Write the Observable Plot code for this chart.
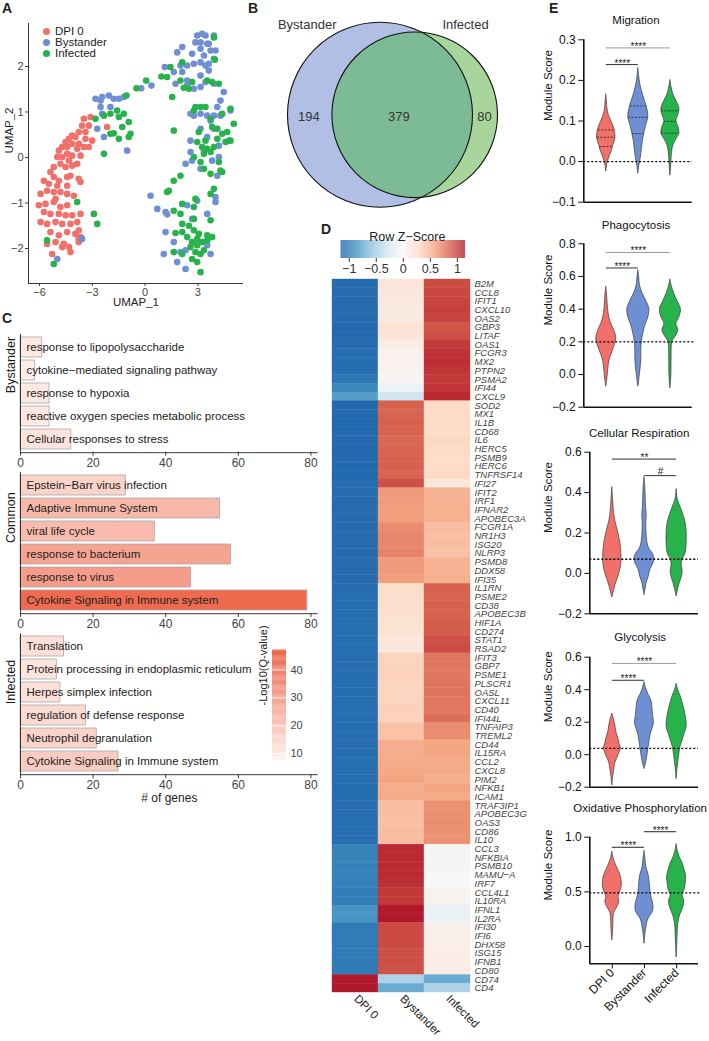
<!DOCTYPE html>
<html><head><meta charset="utf-8">
<script src="https://cdn.jsdelivr.net/npm/d3@7"></script>
<script src="https://cdn.jsdelivr.net/npm/@observablehq/plot@0.6"></script>
<style>
body{margin:0;background:#fff;}
#fig{position:relative;width:709px;height:1041px;overflow:hidden;font-family:"Liberation Sans",Arial,sans-serif;color:#222;background:#fff;}
.plab{position:absolute;font-weight:bold;font-size:14px;line-height:14px;}
.leg{position:absolute;font-size:11.5px;line-height:11px;display:flex;align-items:center;}
.leg span.d{display:inline-block;width:7px;height:7px;border-radius:50%;margin-right:5px;}
svg{overflow:visible;}
</style></head><body><div id="fig"></div>
<script>
// ---------------- DATA ----------------
const groups = ["DPI 0", "Bystander", "Infected"];
const groupColors = ["#F1706A", "#6F8FD5", "#28B24B"];

// Panel A: UMAP coordinates [UMAP_1, UMAP_2]
const umapDPI0 = [[-3.10,0.89],[-3.48,0.85],[-3.58,0.70],[-3.39,0.56],[-3.20,0.70],[-3.77,0.56],[-3.96,0.45],[-4.14,0.48],[-4.33,0.41],[-4.52,0.34],[-4.14,0.30],[-3.77,0.30],[-3.39,0.41],[-3.01,0.37],[-3.20,0.23],[-3.48,0.23],[-3.86,0.19],[-4.43,0.23],[-4.71,0.23],[-4.90,0.15],[-4.43,0.08],[-4.14,0.04],[-3.67,0.04],[-4.71,0.01],[-4.99,0.01],[-4.33,-0.07],[-3.86,-0.14],[-4.81,-0.14],[-5.19,-0.21],[-4.52,-0.21],[-4.14,-0.18],[-5.38,-0.32],[-5.75,-0.51],[-5.19,-0.43],[-4.90,-0.51],[-4.43,-0.43],[-4.24,-0.40],[-3.77,-0.47],[-3.67,-0.54],[-5.47,-0.58],[-4.99,-0.62],[-4.43,-0.62],[-5.94,-0.80],[-5.57,-0.73],[-5.19,-0.76],[-4.81,-0.76],[-4.43,-0.80],[-4.05,-0.84],[-5.09,-0.91],[-2.16,0.67],[-6.04,-1.05],[-5.66,-1.02],[-5.19,-0.98],[-4.81,-1.09],[-4.43,-1.05],[-5.75,-1.20],[-5.38,-1.24],[-4.90,-1.24],[-4.52,-1.27],[-4.14,-1.27],[-3.67,-1.24],[-5.94,-1.42],[-5.57,-1.46],[-5.09,-1.42],[-4.71,-1.46],[-4.24,-1.46],[-3.86,-1.42],[-5.38,-1.64],[-4.90,-1.71],[-4.43,-1.64],[-3.96,-1.68],[-3.77,-1.60],[-5.57,-1.90],[-5.09,-1.86],[-4.62,-1.90],[-4.33,-1.97],[-3.77,-1.86],[-3.67,-1.75],[-5.28,-2.12],[-4.71,-1.97],[-4.24,-2.08],[-3.77,-1.79]];
const umapBystander = [[-2.82,1.29],[-2.44,1.33],[-2.06,1.36],[-1.78,1.29],[-1.49,1.29],[-1.21,1.33],[-2.53,1.11],[-1.97,1.11],[-2.44,0.96],[-2.72,0.63],[-2.34,0.45],[-1.02,0.15],[-2.53,1.25],[-3.58,-1.79],[-4.99,-2.23],[2.96,2.68],[3.24,2.72],[3.43,2.68],[2.86,2.53],[3.15,2.53],[3.62,2.50],[3.91,2.68],[2.11,2.43],[1.82,2.31],[2.67,2.28],[3.34,2.24],[3.72,2.35],[4.00,2.35],[3.15,2.09],[3.43,2.02],[3.62,2.06],[2.77,2.06],[2.39,2.02],[2.11,1.88],[1.63,1.88],[1.12,1.99],[1.73,1.62],[2.39,1.69],[3.15,1.80],[3.43,1.66],[3.91,1.62],[3.15,1.55],[2.77,1.51],[4.47,1.44],[4.85,1.03],[4.28,1.25],[4.10,1.11],[4.28,0.92],[3.15,0.96],[2.77,0.92],[2.58,0.96],[3.53,0.92],[3.91,0.92],[3.72,0.81],[3.15,0.63],[3.91,0.63],[3.53,0.45],[4.19,0.26],[4.76,0.37],[4.19,0.01],[2.58,0.12],[2.30,-0.14],[2.67,-0.07],[3.15,-0.25],[3.81,-0.07],[4.10,-0.40],[4.00,-0.87],[0.31,-0.84],[3.34,0.15],[2.58,0.37],[0.36,1.58],[-0.22,1.52],[2.39,1.58],[3.62,1.91],[3.91,2.17],[2.01,2.02],[3.15,2.39],[3.53,2.50],[0.69,-1.13],[1.16,-1.20],[1.25,-1.25],[2.39,-1.05],[2.67,-1.35],[1.16,-1.64],[1.63,-1.86],[1.06,-2.12],[1.82,-2.30],[2.30,-2.45],[2.01,-2.08],[2.30,-2.04],[3.53,-1.93],[3.72,-2.12],[3.53,-1.24],[4.00,-0.98],[2.96,-0.95]];
const umapInfected = [[-1.06,1.36],[-2.82,0.85],[-2.34,0.92],[-1.97,0.96],[-1.59,1.03],[-1.49,0.89],[-1.21,0.96],[-0.93,0.78],[-1.30,0.67],[-1.78,0.53],[-1.97,0.52],[-1.49,0.41],[-0.83,0.52],[-0.93,0.45],[-2.34,0.08],[1.63,0.59],[-5.57,-1.82],[-3.86,-0.98],[-2.91,-1.24],[-2.72,-1.46],[-5.19,-2.34],[3.91,2.64],[3.96,2.15],[2.11,2.09],[1.44,1.99],[0.93,1.78],[1.25,1.77],[2.01,1.69],[2.67,1.66],[2.20,1.53],[2.49,1.51],[3.53,1.69],[3.81,1.66],[4.19,1.62],[1.54,1.33],[2.77,1.03],[3.15,1.11],[3.43,1.11],[2.86,1.11],[4.38,0.96],[4.85,1.07],[5.04,0.74],[3.72,0.85],[4.10,0.63],[3.81,0.67],[4.38,0.52],[4.66,0.56],[4.85,0.37],[4.10,0.41],[4.57,0.34],[3.05,0.56],[3.43,0.37],[3.24,0.23],[3.53,0.19],[3.91,0.23],[3.34,0.08],[3.72,0.12],[2.96,0.34],[2.77,0.01],[3.15,-0.10],[3.34,-0.25],[4.19,-0.10],[4.28,-0.29],[3.72,-0.36],[4.38,-0.32],[2.01,-0.40],[1.63,-0.51],[1.35,-0.73],[1.25,-0.76],[3.91,-0.69],[3.72,-0.80],[2.86,-0.91],[0.06,1.69],[-0.49,1.52],[1.63,-1.17],[2.11,-1.02],[2.77,-1.09],[3.72,-1.38],[2.11,-1.46],[2.49,-1.50],[1.73,-1.66],[2.11,-1.64],[2.77,-1.60],[3.05,-1.68],[2.39,-1.75],[2.96,-1.79],[3.53,-1.71],[3.81,-1.75],[2.67,-1.86],[3.24,-1.86],[2.58,-1.97],[2.96,-1.93],[3.34,-2.04],[2.86,-2.08],[1.63,-2.08],[2.11,-2.12],[3.15,-2.12],[2.67,-2.23],[2.96,-2.30],[3.15,-2.52],[3.53,-1.82],[2.77,-1.35],[2.01,-1.24]];

// Panel B: Venn counts
const vennNames = ["Bystander", "Infected"];
const vennOnly = [194, 80];
const vennShared = 379;

// Panel C: enrichment
const bystanderTerms = ["response to lipopolysaccharide","cytokine\u2212mediated signaling pathway","response to hypoxia","reactive oxygen species metabolic process","Cellular responses to stress"];
const bystanderCounts = [6, 4, 8, 8, 14];
const bystanderLogQ = [10, 9, 10, 10, 11];
const commonTerms = ["Epstein\u2212Barr virus infection","Adaptive Immune System","viral life cycle","response to bacterium","response to virus","Cytokine Signaling in Immune system"];
const commonCounts = [29, 55, 37, 58, 47, 79];
const commonLogQ = [16, 23, 22.5, 29, 31, 45];
const infectedTerms = ["Translation","Protein processing in endoplasmic reticulum","Herpes simplex infection","regulation of defense response","Neutrophil degranulation","Cytokine Signaling in Immune system"];
const infectedCounts = [12, 10, 11, 18, 21, 27];
const infectedLogQ = [12, 11, 12, 14, 16, 18];
const qTicks = [10, 20, 30, 40];

// Panel D: heatmap
const hmColumns = ["DPI 0", "Bystander", "Infected"];
const hmGenes = ["B2M","CCL8","IFIT1","CXCL10","OAS2","GBP3","LITAF","OAS1","FCGR3","MX2","PTPN2","PSMA2","IFI44","CXCL9","SOD2","MX1","IL1B","CD68","IL6","HERC5","PSMB9","HERC6","TNFRSF14","IFI27","IFIT2","IRF1","IFNAR2","APOBEC3A","FCGR1A","NR1H3","ISG20","NLRP3","PSMD8","DDX58","IFI35","IL1RN","PSME2","CD38","APOBEC3B","HIF1A","CD274","STAT1","RSAD2","IFIT3","GBP7","PSME1","PLSCR1","OASL","CXCL11","CD40","IFI44L","TNFAIP3","TREML2","CD44","IL15RA","CCL2","CXCL8","PIM2","NFKB1","ICAM1","TRAF3IP1","APOBEC3G","OAS3","CD86","IL10","CCL3","NFKBIA","PSMB10","MAMU\u2212A","IRF7","CCL4L1","IL10RA","IFNL1","IL2RA","IFI30","IFI6","DHX58","ISG15","IFNB1","CD80","CD74","CD4"];
const zDPI0 = [-1.12,-1.12,-1.12,-1.12,-1.12,-1.13,-1.13,-1.12,-1.1,-1.1,-1.1,-1.05,-0.95,-0.8,
 -1.13,-1.13,-1.13,-1.13,-1.13,-1.13,-1.13,-1.13,-1.13,-1.1,-1.12,-1.12,-1.12,-1.12,-1.12,-1.12,-1.12,-1.12,-1.12,-1.12,-1.12,
 -1.1,-1.1,-1.1,-1.1,-1.1,-1.1,-1.1,-1.1,-1.1,-1.1,-1.1,-1.1,-1.1,-1.1,-1.1,-1.1,-1.1,-1.1,-1.1,-1.1,-1.1,-1.1,-1.1,-1.1,-1.1,-1.1,-1.1,-1.1,-1.1,-1.1,
 -0.97,-0.97,-0.97,-0.97,-0.97,-1.0,-1.0,-0.85,-0.85,-1.02,-1.02,-1.02,-1.02,-1.02,-1.02,
 1.15,1.15];
const zBystander = [0.18,0.16,0.15,0.13,0.14,0.22,0.2,0.1,0.05,0.04,0.06,0.03,-0.08,-0.28,
 0.85,0.84,0.86,0.85,0.83,0.84,0.85,0.86,0.84,0.93,0.62,0.62,0.6,0.6,0.68,0.7,0.7,0.72,0.62,0.62,0.6,
 0.25,0.26,0.24,0.25,0.22,0.22,0.17,0.15,0.33,0.33,0.34,0.32,0.32,0.33,0.34,0.33,0.42,0.42,0.53,0.53,0.55,0.55,0.58,0.53,0.55,0.44,0.44,0.43,0.44,0.45,
 1.08,1.08,1.08,1.08,1.06,1.02,1.02,1.17,1.15,0.95,0.95,0.95,0.93,0.93,0.92,
 -0.45,-0.72];
const zInfected = [0.94,0.96,0.97,0.99,0.98,0.91,0.93,1.02,1.05,1.06,1.04,1.02,1.03,1.08,
 0.28,0.29,0.27,0.28,0.3,0.29,0.28,0.27,0.29,0.17,0.5,0.5,0.52,0.52,0.45,0.43,0.44,0.42,0.5,0.5,0.52,
 0.85,0.84,0.86,0.85,0.88,0.88,0.93,0.95,0.77,0.77,0.76,0.78,0.78,0.77,0.76,0.8,0.68,0.68,0.57,0.57,0.55,0.55,0.52,0.57,0.55,0.66,0.66,0.67,0.66,0.65,
 -0.03,-0.03,-0.03,0.0,0.0,0.05,0.05,-0.1,-0.1,0.08,0.08,0.09,0.1,0.1,0.1,
 -0.72,-0.45];
const zTicks = [-1, -0.5, 0, 0.5, 1];

// Panel E: violin outlines [module score, half width]
const migration = [
 [[0.165,0],[0.15,0.6],[0.13,1.2],[0.115,2.5],[0.1,5],[0.085,7.5],[0.07,9],[0.055,9],[0.04,7],[0.03,6],[0.02,4.5],[0.01,3],[0,1.6],[-0.01,0.8],[-0.025,0]],
 [[0.23,0],[0.21,0.8],[0.19,2],[0.17,4],[0.15,6.5],[0.13,9],[0.11,10],[0.09,8],[0.07,6],[0.05,4.5],[0.03,3.5],[0.01,2.5],[-0.01,1],[-0.03,0]],
 [[0.2,0],[0.185,1],[0.165,3],[0.15,6],[0.13,9],[0.115,8],[0.1,6],[0.085,8],[0.07,9],[0.055,6],[0.04,3],[0.02,1.5],[0,1],[-0.02,0.5],[-0.035,0]]];
const migrationQuartiles = [
 [[0.078,8],[0.06,9],[0.037,6.5]],
 [[0.137,8],[0.109,10],[0.069,6]],
 [[0.125,9],[0.099,6.2],[0.07,9]]];
const phagocytosis = [
 [[0.535,0],[0.5,0.7],[0.45,1.2],[0.4,1.8],[0.35,3],[0.31,5],[0.27,8],[0.22,10],[0.17,8],[0.12,5],[0.08,3],[0.03,2],[-0.03,1],[-0.075,0]],
 [[0.636,0],[0.6,0.8],[0.55,1.5],[0.5,4],[0.45,8],[0.4,11],[0.35,10],[0.3,7],[0.25,5],[0.2,3.5],[0.15,3],[0.1,3],[0.05,2.5],[0,1.5],[-0.04,0.8],[-0.075,0]],
 [[0.58,0],[0.55,1],[0.5,3.5],[0.45,7],[0.4,10.5],[0.35,9],[0.31,6],[0.27,8],[0.23,5],[0.2,2],[0.1,1.2],[0,1],[-0.05,0.5],[-0.085,0]]];
const respiration = [
 [[0.425,0],[0.38,0.6],[0.33,1.2],[0.29,2],[0.26,3],[0.2,6],[0.15,8],[0.1,9],[0.05,9],[0,7],[-0.03,5],[-0.06,3],[-0.09,1.5],[-0.12,0]],
 [[0.475,0],[0.43,0.8],[0.38,1.2],[0.33,1.5],[0.29,2.2],[0.25,1.8],[0.2,2],[0.15,3],[0.12,5],[0.1,8],[0.075,10],[0.05,9],[0.02,6],[-0.02,4],[-0.05,2],[-0.08,1],[-0.107,0]],
 [[0.415,0],[0.37,1],[0.34,3],[0.3,6],[0.25,9],[0.2,10],[0.15,10],[0.1,9],[0.07,6],[0.04,5],[0.01,6],[-0.02,5],[-0.05,3],[-0.08,1.5],[-0.115,0]]];
const glycolysis = [
 [[0.25,0],[0.22,1.5],[0.18,3],[0.14,4],[0.1,6],[0.07,7],[0.04,8.5],[0.01,7],[-0.02,5],[-0.05,3],[-0.09,2],[-0.13,1],[-0.19,0]],
 [[0.444,0],[0.41,1.5],[0.37,4],[0.33,7],[0.28,8],[0.24,8.5],[0.2,9.5],[0.16,8],[0.12,6],[0.08,5],[0.04,4],[0,3],[-0.04,2],[-0.088,0]],
 [[0.434,0],[0.4,1.5],[0.36,4],[0.32,6],[0.27,8],[0.22,9.5],[0.17,10],[0.13,8],[0.09,6],[0.05,4],[0.02,3],[-0.03,2],[-0.08,1],[-0.15,0]]];
const oxphos = [
 [[0.863,0],[0.82,1],[0.76,3],[0.7,6],[0.64,8.5],[0.58,9.5],[0.53,9],[0.48,7],[0.45,6],[0.41,7],[0.36,5],[0.31,2],[0.26,1.2],[0.2,1],[0.12,0.6],[0.055,0]],
 [[0.872,0],[0.8,1],[0.72,2],[0.66,4],[0.6,5],[0.55,5.5],[0.5,6],[0.45,7],[0.4,8.5],[0.35,9],[0.31,8],[0.27,5],[0.23,3],[0.18,2],[0.12,1],[0.025,0]],
 [[0.933,0],[0.88,1],[0.82,3],[0.76,6],[0.7,8],[0.64,9.5],[0.58,9],[0.52,8],[0.47,6],[0.42,7.5],[0.37,7],[0.32,5],[0.27,3],[0.2,1.5],[0.12,1],[0.02,0.6],[-0.1,0]]];
const refLines = [0, 0.2, 0.07, 0.039, 0.49];
// significance: [groupA, groupB, height, label]
const sigMigration = [[1,2,0.239,"****"],[1,3,0.28,"****"]];
const sigPhagocytosis = [[1,2,0.652,"****"],[1,3,0.747,"****"]];
const sigRespiration = [[2,3,0.484,"#"],[1,3,0.566,"**"]];
const sigGlycolysis = [[1,2,0.458,"****"],[1,3,0.562,"****"]];
const sigOxphos = [[1,2,0.908,"****"],[2,3,1.05,"****"]];

// ---------------- HELPERS ----------------
const fig = document.getElementById("fig");
const FONT = "Liberation Sans, Arial, sans-serif";
function mk(o) {
  return Plot.plot({...o, style: {background: "none", overflow: "visible", fontFamily: FONT, fontSize: "12px", color: "#222", ...(o.style || {})}});
}
function place(node, left, top) {
  node.style.position = "absolute"; node.style.left = left + "px"; node.style.top = top + "px";
  node.style.maxWidth = "none";
  fig.appendChild(node);
}
function label(txt, left, top) {
  const d = document.createElement("div"); d.className = "plab"; d.textContent = txt;
  d.style.left = left + "px"; d.style.top = top + "px"; fig.appendChild(d);
}

// ---------------- PANEL A ----------------
const umapRows = [
  ...umapDPI0.map(([x, y]) => ({x, y, g: "DPI 0"})),
  ...umapBystander.map(([x, y]) => ({x, y, g: "Bystander"})),
  ...umapInfected.map(([x, y]) => ({x, y, g: "Infected"}))];
const axA = {stroke: "#222", strokeWidth: 0.9};
place(mk({
  width: 250, height: 315, marginLeft: 28, marginRight: 7, marginTop: 23, marginBottom: 32,
  style: {fontSize: "11px", color: "#444"},
  x: {domain: [-6.625, 5.59], ticks: [-6, -3, 0, 3], tickFormat: d3.format("d"), tickSize: 3, tickPadding: 2, label: null},
  y: {domain: [-2.77, 2.945], ticks: [-2, -1, 0, 1, 2], tickFormat: d3.format("d"), tickSize: 3, tickPadding: 2, label: null},
  color: {domain: groups, range: groupColors},
  marks: [
    Plot.ruleX([-6.625], axA), Plot.ruleY([-2.77], axA),
    Plot.dot(umapRows, {x: "x", y: "y", fill: "g", r: 3.3}),
    Plot.text(["UMAP_1"], {frameAnchor: "bottom", dy: 22, fontSize: 11.5, fill: "#222"}),
    Plot.text(["UMAP_2"], {frameAnchor: "left", dx: -19, rotate: -90, fontSize: 11.5, fill: "#222"})
  ]
}), 0, 0);
groups.forEach((g, i) => {
  const d = document.createElement("div"); d.className = "leg";
  d.innerHTML = `<span class="d" style="background:${groupColors[i]}"></span>${g}`;
  d.style.left = "43px"; d.style.top = (26 + i * 11) + "px"; fig.appendChild(d);
});

// ---------------- PANEL B ----------------
const vennSizes = vennOnly.map(v => v + vennShared);
const vCY = 114.3, vCX = [139.5, 174.2];
const vennData = vennNames.map((n, i) => ({n, size: vennSizes[i], cx: vCX[i], cy: vCY}));
const plotB = mk({
  width: 260, height: 215, margin: 0,
  x: {type: "identity", axis: null}, y: {type: "identity", axis: null},
  r: {domain: [0, vennSizes[0]], range: [0, 92.5]},
  style: {fontSize: "13px"},
  marks: [
    Plot.dot([vennData[0]], {x: "cx", y: "cy", r: "size", fill: "#B1BFE4"}),
    Plot.dot([vennData[1]], {x: "cx", y: "cy", r: "size", fill: "#A7D59C"}),
    Plot.dot([vennData[1]], {x: "cx", y: "cy", r: "size", fill: "#7DBB96"}),
    Plot.dot(vennData, {x: "cx", y: "cy", r: "size", fill: "none", stroke: "#111", strokeWidth: 1.1}),
    Plot.text(vennNames, {x: [66.7, 225], y: [24, 24], fontSize: 13, fill: "#333"}),
    Plot.text([vennOnly[0], vennShared, vennOnly[1]], {x: [68.3, 158.3, 244], y: [116, 116, 116], fontSize: 13, fill: "#333"})
  ]
});
{
  const gs = plotB.querySelectorAll('g[aria-label="dot"]');
  const by = gs[0].querySelector("circle");
  const ov = gs[2].querySelector("circle");
  const ns = "http://www.w3.org/2000/svg";
  const cp = document.createElementNS(ns, "clipPath"); cp.setAttribute("id", "vennclip");
  const cc = by.cloneNode(true); cc.removeAttribute("fill");
  cp.appendChild(cc); gs[2].appendChild(cp);
  ov.setAttribute("clip-path", "url(#vennclip)");
}
place(plotB, 240, 0);

// ---------------- PANEL C ----------------
const qColor = {type: "linear", domain: [7, 47], range: ["#fff3ee", "#ee6347"], interpolate: "rgb"};
function facet(name, terms, counts, logq, top, mt, h, mb, extra) {
  const rows = terms.map((t, i) => ({t, n: counts[i], q: logq[i]}));
  place(mk({
    width: 330, height: h, marginLeft: 20, marginRight: 12.3, marginTop: mt, marginBottom: mb,
    x: {domain: [0, 82], ticks: [0, 20, 40, 60, 80], tickSize: 4, tickPadding: 2, label: null},
    y: {domain: terms, padding: 0.13, axis: null},
    color: qColor,
    style: {color: "#444"},
    marks: [
      Plot.barX(rows, {x: "n", y: "t", fill: "q", stroke: "#a9a9a9", strokeWidth: 0.8}),
      Plot.text(rows, {x: 0, y: "t", text: "t", dx: 6, textAnchor: "start", fontSize: 11.5, fill: "#222"}),
      Plot.ruleX([0], {stroke: "#222", strokeWidth: 0.9}),
      Plot.ruleY([terms[terms.length - 1]], {y: d => d, x1: 0, x2: 82, dy: 13.2, stroke: "#222", strokeWidth: 0.9}),
      Plot.text([name], {frameAnchor: "left", dx: -10, rotate: -90, fontSize: 12.5, fill: "#1a1a1a"}),
      ...(extra || [])
    ]
  }), 0, top);
}
facet("Bystander", bystanderTerms, bystanderCounts, bystanderLogQ, 330, 3.7, 144, 22.3);
facet("Common", commonTerms, commonCounts, commonLogQ, 468, 4, 167, 22);
facet("Infected", infectedTerms, infectedCounts, infectedLogQ, 629, 4.3, 181, 35.7,
  [Plot.text(["# of genes"], {frameAnchor: "bottom", dy: 27, fontSize: 12, fill: "#222"})]);
// colour legend for C
place(mk({
  width: 70, height: 125, marginLeft: 22, marginRight: 34, marginTop: 10, marginBottom: 5,
  x: {domain: [0, 1], axis: null},
  y: {domain: [7.5, 47], ticks: qTicks, tickSize: 0, tickPadding: 4, axis: "right", label: null},
  color: qColor,
  style: {fontSize: "11px", color: "#444"},
  marks: [
    Plot.rect(d3.range(7.5, 47, 0.4), {x1: 0, x2: 1, y1: d => d, y2: d => d + 0.45, fill: d => d}),
    Plot.tickY(qTicks, {y: d => d, stroke: "white", strokeWidth: 0.8, inset: 0}),
    Plot.text(["-Log10(Q-value)"], {frameAnchor: "left", dx: -9, rotate: -90, fontSize: 11, fill: "#222"})
  ]
}), 250, 640);

// ---------------- PANEL D ----------------
const zStops = [-1.15, -0.8625, -0.575, -0.2875, 0, 0.2875, 0.575, 0.8625, 1.15];
const zColor = {type: "linear", domain: zStops, range: ["#2166ac", "#4393c3", "#92c5de", "#d1e5f0", "#f7f7f7", "#fddbc7", "#f4a582", "#d6604d", "#b2182b"], interpolate: "rgb", clamp: true};
const hmCells = hmGenes.flatMap((g, i) => [
  {g, c: hmColumns[0], z: zDPI0[i]}, {g, c: hmColumns[1], z: zBystander[i]}, {g, c: hmColumns[2], z: zInfected[i]}]);
place(mk({
  width: 215, height: 771, marginLeft: 12, marginRight: 65, marginTop: 9, marginBottom: 49,
  x: {domain: hmColumns, padding: 0, axis: null},
  y: {domain: hmGenes, padding: 0, axis: null},
  color: zColor,
  marks: [
    Plot.cell(hmCells, {x: "c", y: "g", fill: "z", stroke: "z", strokeWidth: 0.4, inset: 0}),
    Plot.text(hmGenes, {y: d => d, frameAnchor: "right", dx: 4, textAnchor: "start", fontStyle: "italic", fontSize: 9.5, fill: "#444"}),
    Plot.text(hmColumns, {x: d => d, frameAnchor: "bottom", dy: 7, dx: -2, rotate: 45, textAnchor: "start", fontSize: 11.5, fill: "#222"})
  ]
}), 320, 270);
place(mk({
  width: 150, height: 60, marginLeft: 15.6, marginRight: 10, marginTop: 18, marginBottom: 24,
  x: {domain: [-1.15, 1.15], ticks: zTicks, tickSize: 4, tickPadding: 2, tickFormat: d3.format("~g"), label: null},
  y: {domain: [0, 1], axis: null},
  color: zColor,
  style: {fontSize: "12.5px", color: "#333"},
  marks: [
    Plot.rect(d3.range(-1.15, 1.15, 0.01), {x1: d => d, x2: d => d + 0.011, y1: 0, y2: 1, fill: d => d}),
    Plot.text(["Row Z\u2212Score"], {frameAnchor: "top", dy: -8, dx: 4, fontSize: 12.5, fill: "#222"})
  ]
}), 325, 222);

// ---------------- PANEL E ----------------
const modules = [
  {title: "Migration", v: migration, q: migrationQuartiles, sig: sigMigration, sigCol: ["#333", "#999"], ref: refLines[0],
   top: 0, h: 215, yTop: 39.3, yBot: 201.7, dom: [-0.1, 0.3], ticks: [-0.1, 0, 0.1, 0.2, 0.3], titleY: 20, left: 583.3, right: 691.7, refEnd: 3.68, lblDx: -35, tdx: -2},
  {title: "Phagocytosis", v: phagocytosis, sig: sigPhagocytosis, sigCol: ["#333", "#999"], ref: refLines[1],
   top: 215, h: 205, yTop: 243.3, yBot: 406.7, dom: [-0.2, 0.8], ticks: [-0.2, 0, 0.2, 0.4, 0.6, 0.8], titleY: 225, left: 583.3, right: 691.7, refEnd: 3.78, lblDx: -35, tdx: -2},
  {title: "Cellular Respiration", v: respiration, sig: sigRespiration, sigCol: ["#333", "#333"], ref: refLines[2],
   top: 420, h: 205, yTop: 451.7, yBot: 613.3, dom: [-0.2, 0.6], ticks: [-0.2, 0, 0.2, 0.4, 0.6], titleY: 433.3, left: 589.3, right: 698, refEnd: 3.68, lblDx: -41, tdx: -5},
  {title: "Glycolysis", v: glycolysis, sig: sigGlycolysis, sigCol: ["#333", "#999"], ref: refLines[3],
   top: 625, h: 175, yTop: 656.7, yBot: 786.7, dom: [-0.2, 0.6], ticks: [-0.2, 0, 0.2, 0.4, 0.6], titleY: 637.3, left: 589.3, right: 698, refEnd: 3.68, lblDx: -41, tdx: -4},
  {title: "Oxidative Phosphorylation", v: oxphos, sig: sigOxphos, sigCol: ["#222", "#222"], ref: refLines[4],
   top: 800, h: 241, yTop: 836.7, yBot: 963.3, dom: [-0.158, 1.0], ticks: [0, 0.5, 1.0], titleY: 808.3, left: 589.3, right: 698, refEnd: 3.78, lblDx: -41, tdx: -4, bottom: true}
];
const PXU = 32.07;
modules.forEach(m => {
  const marks = [];
  m.v.forEach((prof, i) => {
    marks.push(Plot.areaX(prof, {y: d => d[0], x1: d => i + 1 - d[1] / PXU, x2: d => i + 1 + d[1] / PXU,
      fill: groupColors[i], stroke: "#3a3a3a", strokeWidth: 0.7, curve: "catmull-rom"}));
  });
  if (m.q) m.q.forEach((qs, i) => {
    marks.push(Plot.ruleY(qs, {y: d => d[0], x1: d => i + 1 - d[1] / PXU, x2: d => i + 1 + d[1] / PXU,
      stroke: "#222", strokeWidth: 0.8, strokeDasharray: "2,1.5"}));
  });
  marks.push(Plot.ruleY([m.ref], {x1: 0.3, x2: m.refEnd, stroke: "#000", strokeWidth: 1.3, strokeDasharray: "2,2"}));
  m.sig.forEach((s, k) => {
    marks.push(Plot.ruleY([s], {y: d => d[2], x1: d => d[0], x2: d => d[1], stroke: m.sigCol[k], strokeWidth: 1}));
    marks.push(Plot.text([s], {x: d => (d[0] + d[1]) / 2, y: d => d[2], text: d => d[3], lineAnchor: "bottom",
      dy: s[3] === "#" ? -1 : 2, fontSize: 10, fill: "#222"}));
  });
  marks.push(Plot.ruleX([0.3], {y1: m.dom[0], y2: m.dom[1], stroke: "#111", strokeWidth: 1.6}));
  marks.push(Plot.ruleY([m.dom[0]], {x1: 0.3, x2: 3.68, stroke: "#111", strokeWidth: 1.6}));
  marks.push(Plot.text([m.title], {frameAnchor: "top", dy: m.titleY - m.yTop, dx: m.tdx, lineAnchor: "middle", fontSize: 11.5, fill: "#111"}));
  marks.push(Plot.text(["Module Score"], {frameAnchor: "left", dx: m.lblDx, rotate: -90, fontSize: 11.5, fill: "#111"}));
  place(mk({
    width: 239, height: m.h, marginLeft: m.left - 470, marginRight: 709 - m.right,
    marginTop: m.yTop - m.top, marginBottom: m.top + m.h - m.yBot,
    x: m.bottom ? {domain: [0.3, 3.68], ticks: [1, 2, 3], tickFormat: i => groups[i - 1], tickRotate: -45, tickSize: 5, tickPadding: 2, label: null}
                : {domain: [0.3, 3.68], axis: null},
    y: {domain: m.dom, ticks: m.ticks, tickFormat: d3.format(".1f"), tickSize: 5, tickPadding: 3, label: null},
    style: {fontSize: "12px", color: "#111"},
    marks
  }), 470, m.top);
});

// panel letters
label("A", 2, 1); label("B", 248, 1); label("C", 2, 311); label("D", 321, 222); label("E", 549, 1);
</script></body></html>
